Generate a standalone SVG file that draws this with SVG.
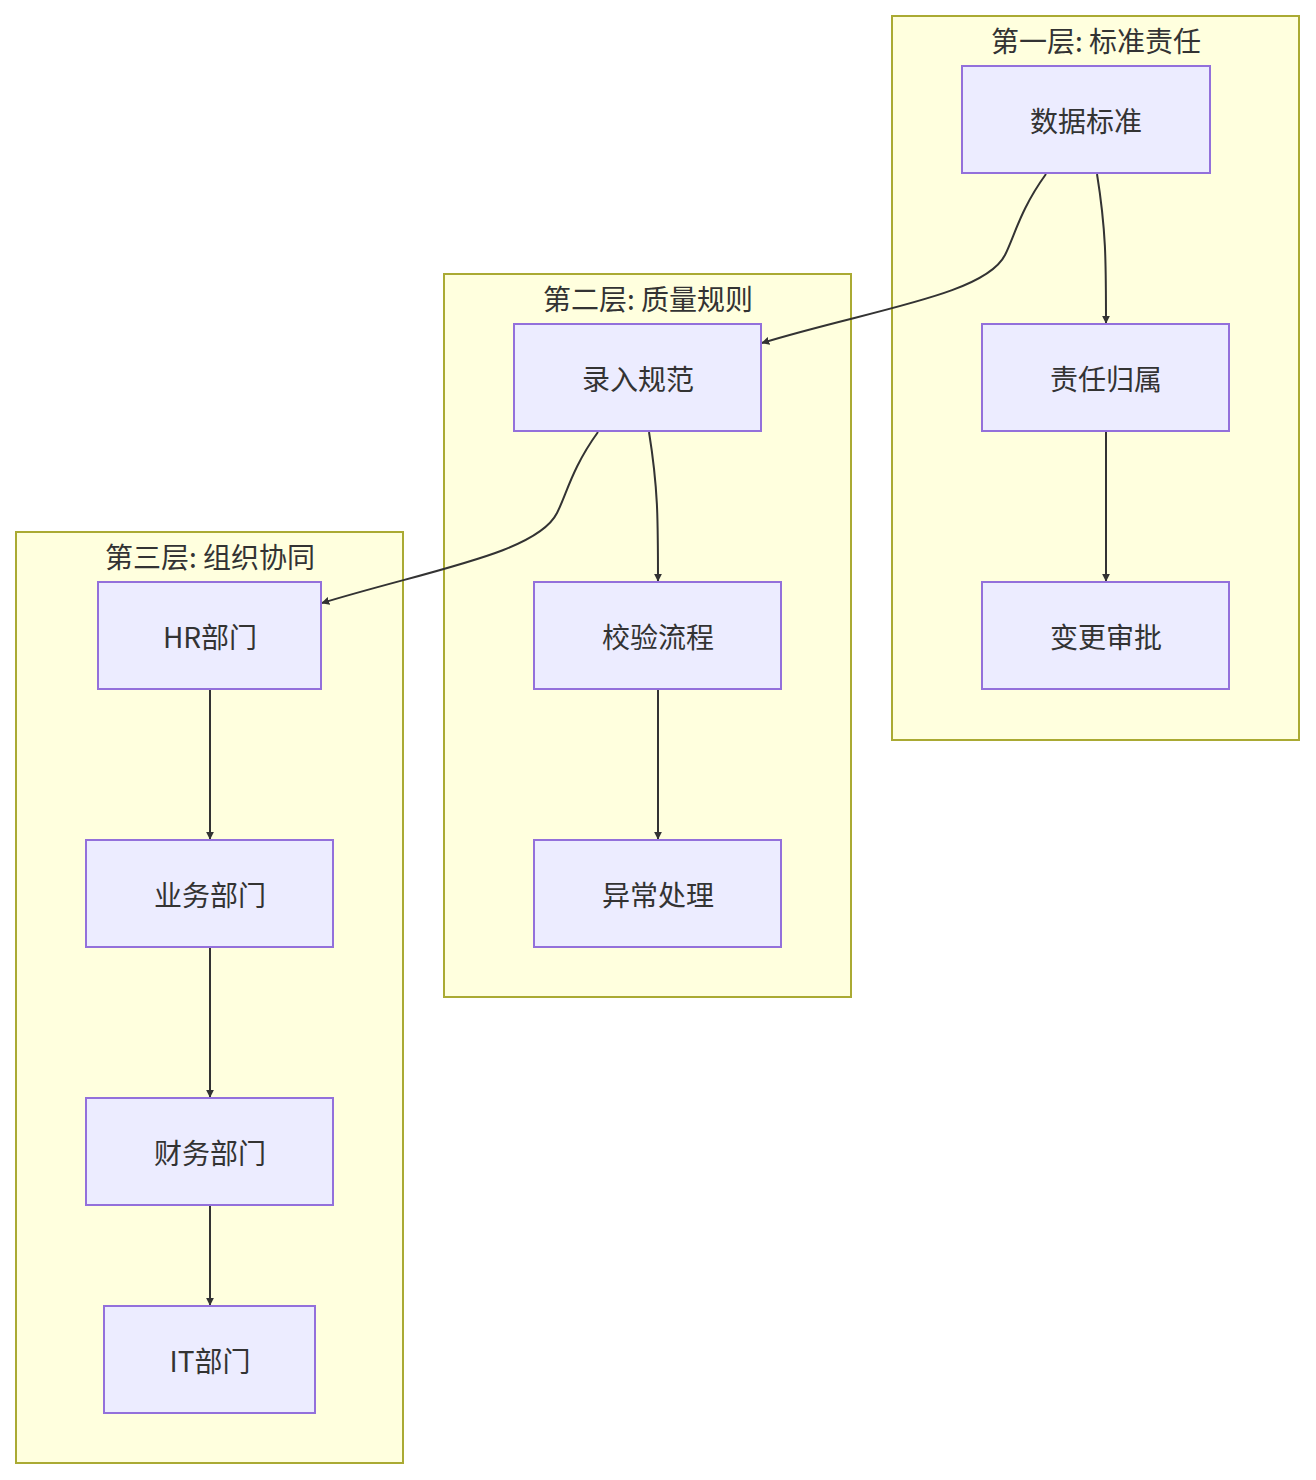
<svg xmlns="http://www.w3.org/2000/svg" width="1316" height="1480" viewBox="0 0 1316 1480">
<defs>
<style>
.c{fill:#ffffde;stroke:#aaaa33;stroke-width:2}
.n{fill:#ececff;stroke:#9370db;stroke-width:2}
text{font-family:"Noto Sans CJK SC","Noto Sans",sans-serif;font-size:28px;fill:#333;text-anchor:middle;dominant-baseline:central}
.e{fill:none;stroke:#333;stroke-width:2;marker-end:url(#a)}
</style>
<marker id="a" viewBox="0 0 10 10" refX="9" refY="5" markerWidth="8" markerHeight="8" orient="auto" markerUnits="userSpaceOnUse"><path d="M0,0L10,5L0,10z" fill="#333"/></marker>
</defs>
<rect width="1316" height="1480" fill="#fff"/>
<g id="cluster1"><rect class="c" x="892" y="16" width="407" height="724"/><text x="1096" y="40">第一层: 标准责任</text></g>
<g id="cluster2"><rect class="c" x="444" y="274" width="407" height="723"/><text x="648" y="298">第二层: 质量规则</text></g>
<g id="cluster3"><rect class="c" x="16" y="532" width="387" height="931"/><text x="210" y="556">第三层: 组织协同</text></g>
<g id="edges">
<path class="e" d="M1046,174C1020,210 1015,235 1005,255C985,295 870,310 762,343"/>
<path class="e" d="M1097,174C1106,230 1106,260 1106,323"/>
<path class="e" d="M1106,432V581"/>
<path class="e" d="M598,432C572,468 567,493 557,513C537,553 430,570 322,603"/>
<path class="e" d="M649,432C658,488 658,518 658,581"/>
<path class="e" d="M658,690V839"/>
<path class="e" d="M210,690V839"/>
<path class="e" d="M210,948V1097"/>
<path class="e" d="M210,1206V1305"/>
</g>
<g id="n1"><rect class="n" x="962" y="66" width="248" height="107"/><text x="1086" y="120">数据标准</text></g>
<g id="n2"><rect class="n" x="982" y="324" width="247" height="107"/><text x="1106" y="378">责任归属</text></g>
<g id="n3"><rect class="n" x="982" y="582" width="247" height="107"/><text x="1106" y="636">变更审批</text></g>
<g id="n4"><rect class="n" x="514" y="324" width="247" height="107"/><text x="638" y="378">录入规范</text></g>
<g id="n5"><rect class="n" x="534" y="582" width="247" height="107"/><text x="658" y="636">校验流程</text></g>
<g id="n6"><rect class="n" x="534" y="840" width="247" height="107"/><text x="658" y="894">异常处理</text></g>
<g id="n7"><rect class="n" x="98" y="582" width="223" height="107"/><text x="210" y="636">HR部门</text></g>
<g id="n8"><rect class="n" x="86" y="840" width="247" height="107"/><text x="210" y="894">业务部门</text></g>
<g id="n9"><rect class="n" x="86" y="1098" width="247" height="107"/><text x="210" y="1152">财务部门</text></g>
<g id="n10"><rect class="n" x="104" y="1306" width="211" height="107"/><text x="210" y="1360">IT部门</text></g>
</svg>
